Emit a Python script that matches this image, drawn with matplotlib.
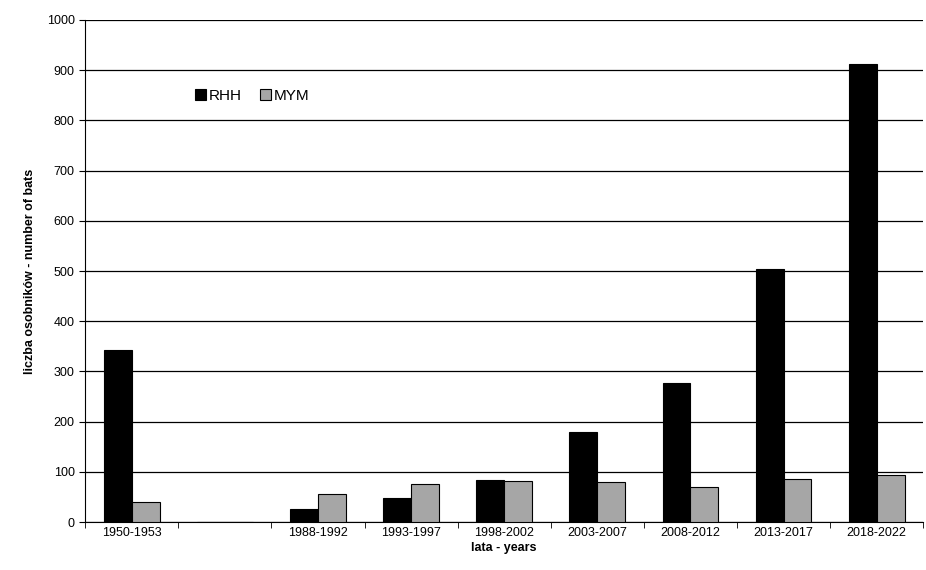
import matplotlib
matplotlib.use("Agg")
import matplotlib.pyplot as plt
import numpy as np

plt.rcParams['font.family'] = ['Liberation Sans', 'DejaVu Sans']

periods = ["1950-1953", "", "1988-1992", "1993-1997", "1998-2002",
           "2003-2007", "2008-2012", "2013-2017", "2018-2022"]
rhh = [343, 0, 26, 48, 84, 179, 277, 504, 912]
mym = [40, 0, 56, 76, 82, 80, 70, 86, 94]

fig = plt.figure(figsize=(9.26, 5.7), dpi=100)
ax = fig.add_axes([0.092, 0.084, 0.905, 0.881])
x = np.arange(len(periods))
w = 0.3
ax.bar(x - w/2, rhh, w, color="black", edgecolor="black", lw=0.8, label="RHH", zorder=3)
ax.bar(x + w/2, mym, w, color="#a6a6a6", edgecolor="black", lw=0.8, label="MYM", zorder=3)

ax.set_xlim(-0.5, len(periods) - 0.5)
ax.set_ylim(0, 1000)
ax.set_yticks(range(0, 1001, 100))
ax.yaxis.grid(True, color="black", lw=0.9, zorder=0)
ax.set_xticks(x)
ax.set_xticklabels(periods, fontsize=9)
ax.set_xticks(np.arange(-0.5, len(periods)), minor=True)
ax.tick_params(axis="x", which="major", length=0)
ax.tick_params(axis="x", which="minor", length=4, direction="out")
ax.tick_params(axis="y", labelsize=9, length=4, direction="out")
for s in ["top", "right"]:
    ax.spines[s].set_visible(False)
ax.set_xlabel("lata - years", fontsize=9, fontweight="bold", labelpad=2)
ax.set_ylabel("liczba osobników - number of bats", fontsize=9, fontweight="bold", labelpad=8)
ax.legend(loc="upper left", bbox_to_anchor=(0.115, 0.89), ncol=2, frameon=False,
          fontsize=11, handlelength=0.7, handleheight=0.7, handletextpad=0.2,
          columnspacing=1.2)
fig.savefig("out.png", dpi=100)
